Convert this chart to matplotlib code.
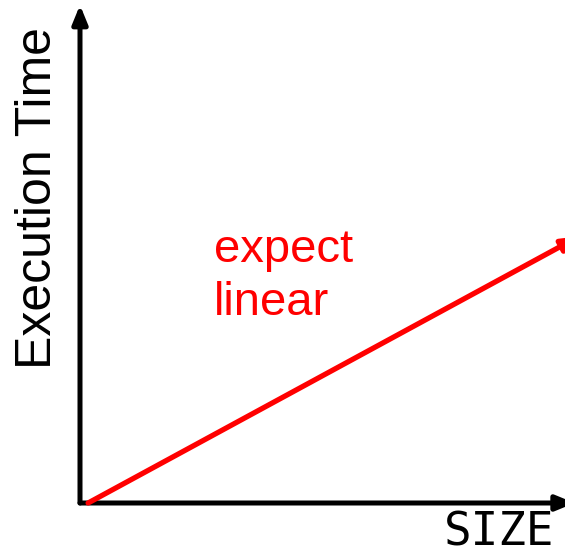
import matplotlib
matplotlib.use("Agg")
import matplotlib.pyplot as plt

# data: idealised linear trend
size = [0.0, 1.0]
exec_time = [0.0, 0.52]
x_label = "SIZE"
y_label = "Execution Time"
note_lines = ["expect", "linear"]

fig = plt.figure(figsize=(5.65, 5.56), dpi=100)
ax = fig.add_axes([80/565, 53/556, 485/565, 498/556])
ax.set_xlim(-0.017, 1.0)
ax.set_ylim(0, 1)
ax.axis("off")

# axes arrows
ax.annotate("", xy=(0, 1.0), xytext=(0, 0), xycoords="axes fraction",
            arrowprops=dict(arrowstyle="-|>,head_length=1.1,head_width=0.45",
                            lw=3.6, color="black", shrinkA=0, shrinkB=0),
            annotation_clip=False)
ax.annotate("", xy=(1.02, 0), xytext=(0, 0), xycoords="axes fraction",
            arrowprops=dict(arrowstyle="-|>,head_length=1.1,head_width=0.45",
                            lw=3.6, color="black", shrinkA=0, shrinkB=0),
            annotation_clip=False)

# red trend arrow (slightly extended past the figure edge so the head is clipped)
ext = 0.03
ax.annotate("", xy=(size[1] + ext, exec_time[1] + ext * (exec_time[1] - exec_time[0]) / (size[1] - size[0])),
            xytext=(size[0], exec_time[0]),
            arrowprops=dict(arrowstyle="-|>,head_length=1.0,head_width=0.4",
                            lw=3.8, color="red", shrinkA=0, shrinkB=0),
            annotation_clip=False)

for line, yb in zip(note_lines, [294, 241]):
    fig.text(214/565, yb/556, line, color="red", fontsize=34,
             family="Liberation Sans", ha="left", va="baseline")

fig.text(554/565, 1/556, x_label, family="DejaVu Sans Mono", fontsize=33,
         ha="right", va="bottom")
fig.text(38/565, 358/556, y_label, family="Liberation Sans", fontsize=36,
         rotation=90, ha="center", va="center")

fig.savefig("out.png", dpi=100)
